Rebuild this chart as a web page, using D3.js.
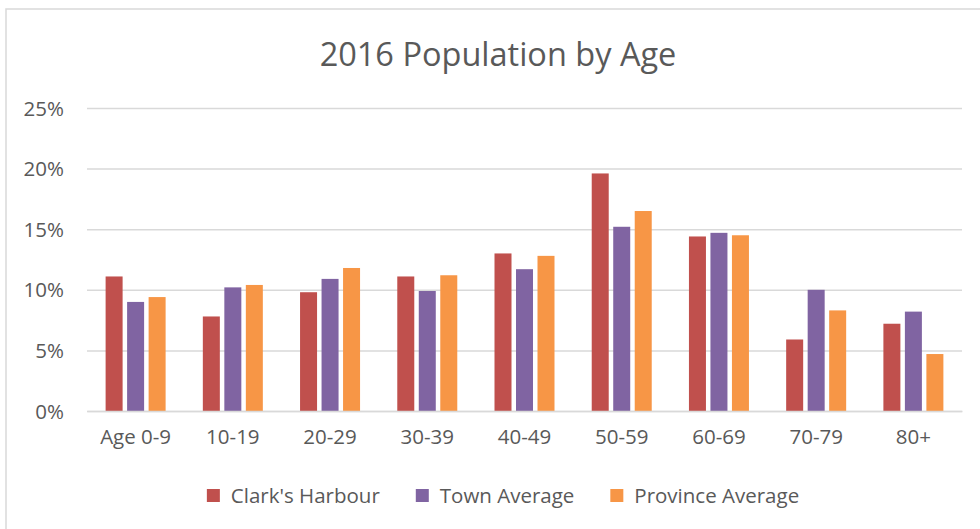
<!DOCTYPE html>
<html>
<head>
<meta charset="utf-8">
<script src="https://cdn.jsdelivr.net/npm/d3@7"></script>
<style>
  html, body { margin: 0; padding: 0; background: #fff; }
  svg { display: block; }
  text { font-family: "Open Sans", sans-serif; fill: #595959; }
</style>
</head>
<body>
<svg id="chart" width="980" height="529"></svg>
<script>
const categories = ["Age 0-9", "10-19", "20-29", "30-39", "40-49", "50-59", "60-69", "70-79", "80+"];
const seriesNames = ["Clark's Harbour", "Town Average", "Province Average"];
const clarksHarbour = [11.1, 7.8, 9.8, 11.1, 13.0, 19.6, 14.4, 5.9, 7.2];
const townAverage = [9.0, 10.2, 10.9, 9.9, 11.7, 15.2, 14.7, 10.0, 8.2];
const provinceAverage = [9.4, 10.4, 11.8, 11.2, 12.8, 16.5, 14.5, 8.3, 4.7];
const yTicks = [0, 5, 10, 15, 20, 25];
const colors = ["#C0504D", "#8064A2", "#F79646"];
const title = "2016 Population by Age";

const seriesValues = [clarksHarbour, townAverage, provinceAverage];
const svg = d3.select("#chart");

// chart frame
svg.append("rect")
  .attr("x", 6).attr("y", 9)
  .attr("width", 990).attr("height", 540)
  .attr("fill", "#fff")
  .attr("stroke", "#D9D9D9")
  .attr("stroke-width", 1.5);

const x0 = d3.scaleBand().domain(categories).range([87, 962]).padding(0);
const x1 = d3.scaleBand().domain(seriesNames).range([0, 60]).paddingInner(0.2093).paddingOuter(0);
const y = d3.scaleLinear().domain([0, 25]).range([411, 108]);

// title
svg.append("text")
  .attr("x", 498).attr("y", 66)
  .attr("text-anchor", "middle")
  .style("font-size", "32.5px")
  .text(title);

// gridlines
const yAxis = d3.axisLeft(y).tickValues(yTicks).tickSize(-(962 - 87)).tickFormat(d => d + "%").tickPadding(23);
const gy = svg.append("g").attr("transform", "translate(87,0)").call(yAxis);
gy.select(".domain").remove();
gy.selectAll(".tick line").attr("stroke", "#D9D9D9").attr("stroke-width", 1.5);
gy.selectAll(".tick text")
  .attr("fill", "#595959")
  .style("font-family", "\"Open Sans\", sans-serif")
  .style("font-size", "20.5px")
  .attr("dy", "0.35em");

// bars
const groups = svg.append("g").selectAll("g")
  .data(categories)
  .join("g")
  .attr("transform", d => `translate(${x0(d) + (x0.bandwidth() - 60) / 2},0)`);

groups.selectAll("rect")
  .data((c, i) => seriesNames.map((s, j) => ({ s, j, v: seriesValues[j][i] })))
  .join("rect")
  .attr("x", d => x1(d.s))
  .attr("width", x1.bandwidth())
  .attr("y", d => y(d.v))
  .attr("height", d => y(0) - y(d.v))
  .attr("fill", d => colors[d.j]);

// x axis
const xAxis = d3.axisBottom(x0).tickSize(0).tickPadding(18);
const gx = svg.append("g").attr("transform", "translate(0,411)").call(xAxis);
gx.select(".domain").attr("stroke", "#D9D9D9").attr("stroke-width", 1.5);
gx.selectAll(".tick text")
  .attr("fill", "#595959")
  .style("font-family", "\"Open Sans\", sans-serif")
  .style("font-size", "20.5px");

// legend
const legend = svg.append("g");
const items = legend.selectAll("g").data(seriesNames).join("g");
items.append("rect")
  .attr("width", 13).attr("height", 13)
  .attr("y", -14)
  .attr("fill", (d, i) => colors[i]);
items.append("text")
  .attr("x", 24).attr("y", 0)
  .style("font-size", "20.5px")
  .text(d => d);
let xpos = 0;
items.each(function () {
  const g = d3.select(this);
  g.attr("transform", `translate(${xpos},0)`);
  const w = 24 + g.select("text").node().getComputedTextLength();
  xpos += w + 36;
});
const totalW = xpos - 36;
legend.attr("transform", `translate(${503 - totalW / 2},503)`);
</script>
</body>
</html>
